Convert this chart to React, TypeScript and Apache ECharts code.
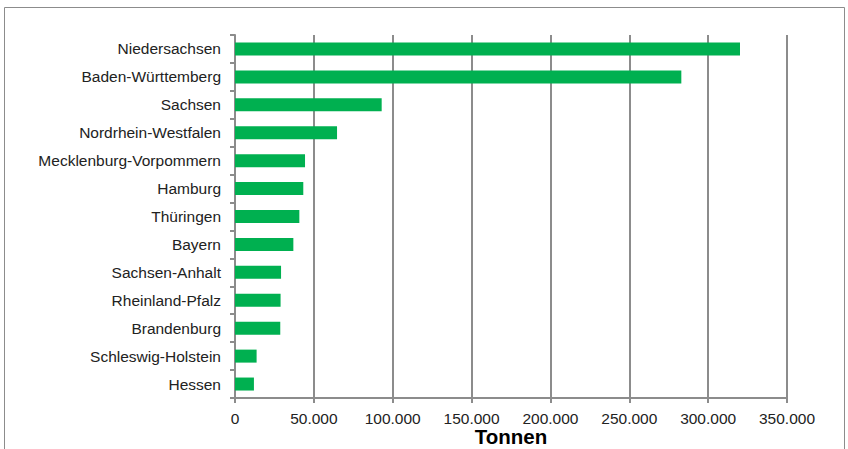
import React, { useEffect, useRef } from "react";
import * as echarts from "echarts";

// Bundesländer, sorted from largest to smallest quantity
const states = [
  "Niedersachsen",
  "Baden-Württemberg",
  "Sachsen",
  "Nordrhein-Westfalen",
  "Mecklenburg-Vorpommern",
  "Hamburg",
  "Thüringen",
  "Bayern",
  "Sachsen-Anhalt",
  "Rheinland-Pfalz",
  "Brandenburg",
  "Schleswig-Holstein",
  "Hessen",
];

// Quantity per state in tonnes
const tonnes = [
  320200, 283000, 93000, 64700, 44400, 43300, 40800, 37000, 29200, 28900,
  28700, 13700, 12000,
];

const axisMax = 350000;
const axisStep = 50000;
const axisTitle = "Tonnen";

const fmt = (v: number) =>
  v === 0 ? "0" : v.toLocaleString("de-DE").replace(/,/g, ".");

export default function App() {
  const ref = useRef<HTMLDivElement>(null);

  useEffect(() => {
    if (!ref.current) return;
    const chart = echarts.init(ref.current, null, { renderer: "svg" });
    const grey = "#8c8c8c";
    const font = "Arial, 'Liberation Sans', sans-serif";
    chart.setOption({
      animation: false,
      backgroundColor: "#ffffff",
      textStyle: { fontFamily: font },
      graphic: [
        {
          type: "rect",
          shape: { x: 4.5, y: 7.5, width: 840, height: 460 },
          style: { fill: "none", stroke: grey, lineWidth: 1 },
          silent: true,
        },
      ],
      grid: {
        left: 235,
        right: 61,
        top: 35,
        bottom: 51,
        containLabel: false,
        outerBoundsMode: "none",
      },
      xAxis: {
        type: "value",
        min: 0,
        max: axisMax,
        interval: axisStep,
        name: axisTitle,
        nameLocation: "middle",
        nameGap: 28,
        nameMoveOverlap: false,
        nameTextStyle: {
          fontFamily: font,
          fontSize: 20.5,
          fontWeight: "bold",
          color: "#000000",
        },
        axisLine: { show: true, lineStyle: { color: grey, width: 2 } },
        axisTick: { show: true, length: 5, lineStyle: { color: grey, width: 2 } },
        axisLabel: {
          margin: 12,
          fontFamily: font,
          fontSize: 15.5,
          color: "#222222",
          formatter: (v: number) => fmt(v),
        },
        splitLine: { show: true, lineStyle: { color: grey, width: 2 } },
      },
      yAxis: {
        type: "category",
        data: states,
        inverse: true,
        axisLine: { show: true, lineStyle: { color: grey, width: 2 } },
        axisTick: { show: true, length: 5, lineStyle: { color: grey, width: 2 } },
        axisLabel: {
          margin: 14,
          fontFamily: font,
          fontSize: 15.5,
          color: "#222222",
        },
        splitLine: { show: false },
      },
      series: [
        {
          type: "bar",
          data: tonnes,
          barWidth: 13,
          itemStyle: { color: "#00b050" },
          silent: true,
        },
      ],
    });
    return () => chart.dispose();
  }, []);

  return (
    <div
      ref={ref}
      style={{ position: "absolute", left: 0, top: 0, width: 848, height: 449 }}
    />
  );
}
